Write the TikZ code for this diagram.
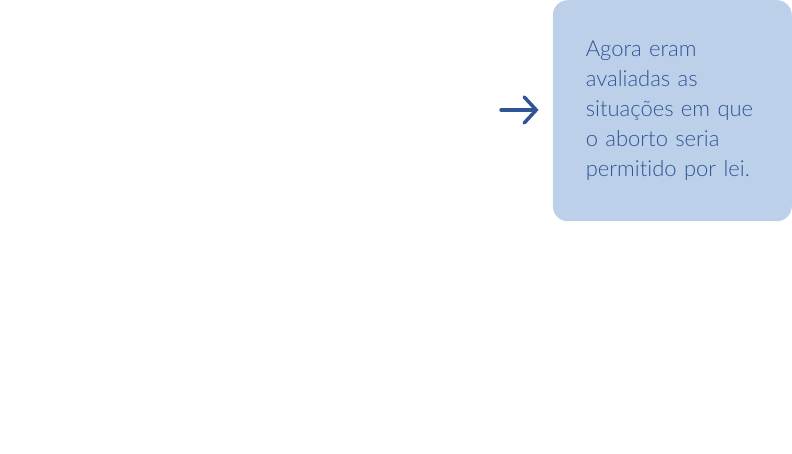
\documentclass[tikz,border=0pt]{standalone}
\usepackage{fontspec}
\setmainfont{Lato}[UprightFont=* Light, RawFeature=-liga, WordSpace=0.7]
\usetikzlibrary{arrows.meta, positioning}
\definecolor{notefill}{HTML}{BDD0E9}
\definecolor{noteblue}{HTML}{2F5597}
\tikzset{
  notebox/.style = {fill = notefill, rounded corners = 15pt, draw = none,
    minimum width = 239pt, minimum height = 221pt, text width = 173pt,
    inner xsep = 33pt, align = left, text = noteblue,
    font = \fontsize{22pt}{30pt}\selectfont},
  pointer/.style = {draw = noteblue, line width = 3.5pt, line cap = round,
    -{Straight Barb[length = 12pt, width = 26pt, line cap = round]}}
}

\begin{document}
\begin{tikzpicture}[x = 1pt, y = -1pt]
\useasboundingbox (0,0) rectangle (792,454);
\node[notebox, anchor = north east] (note) at (792,0)
  {Agora eram\\avaliadas as\\situações em que\\o aborto seria\\permitido por lei.};
\coordinate (tail) at (501,110);
\draw[pointer, shorten > = 14pt] (tail) -- (tail -| note.west);
\end{tikzpicture}
\end{document}
